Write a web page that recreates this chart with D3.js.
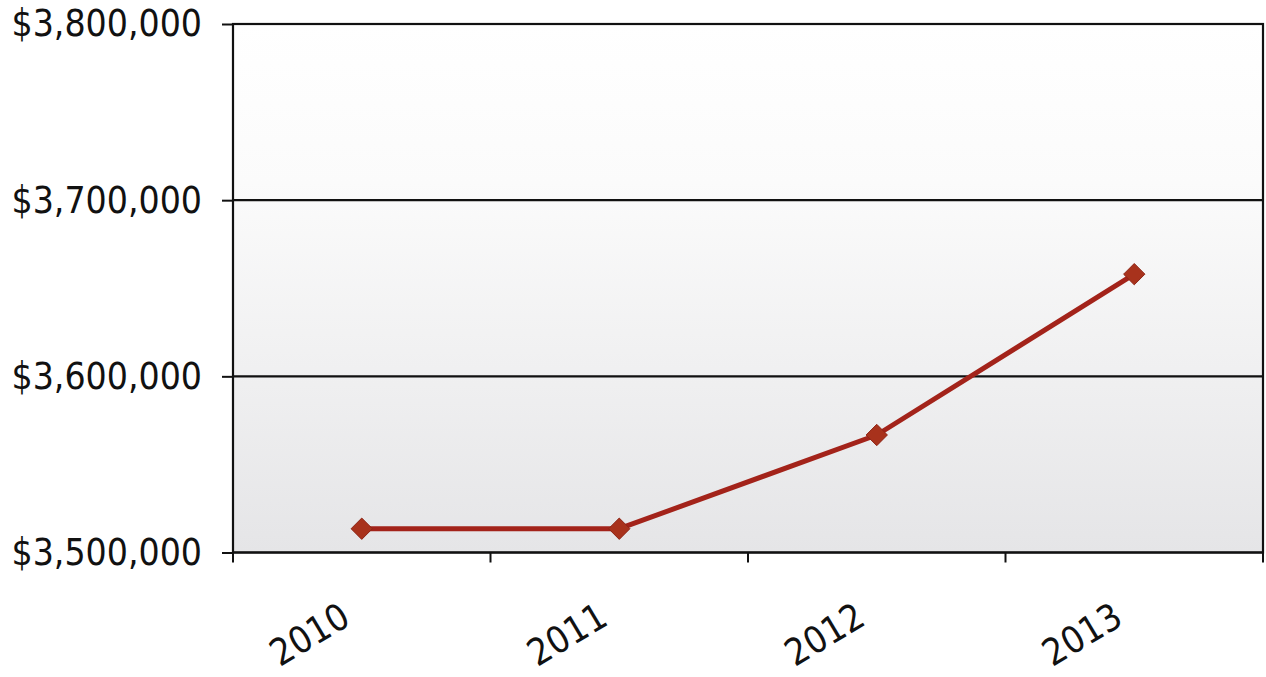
<!DOCTYPE html>
<html>
<head>
<meta charset="utf-8">
<script src="https://cdn.jsdelivr.net/npm/d3@7"></script>
<style>
  html, body { margin: 0; padding: 0; background: #ffffff; }
  svg { display: block; }
  .lbl { font-family: "DejaVu Sans Condensed", "DejaVu Sans", sans-serif; font-stretch: condensed; font-size: 37px; fill: #111; }
</style>
</head>
<body>
<svg id="chart" width="1266" height="677"></svg>
<script>
// Annual totals
const years = ["2010", "2011", "2012", "2013"];
const totals = [3513500, 3513500, 3566700, 3658000];
const yTicks = [3500000, 3600000, 3700000, 3800000];

const W = 1266, H = 677;
const margin = { left: 233, right: 3, top: 24, bottom: 124.5 };

const svg = d3.select("#chart");

const x = d3.scaleBand().domain(years).range([margin.left, W - margin.right]).padding(0);
const y = d3.scaleLinear().domain([3500000, 3800000]).range([H - margin.bottom, margin.top]);

// Plot background: soft vertical gradient
const defs = svg.append("defs");
const grad = defs.append("linearGradient").attr("id", "bg").attr("x1", 0).attr("y1", 0).attr("x2", 0).attr("y2", 1);
grad.append("stop").attr("offset", "0%").attr("stop-color", "#ffffff");
grad.append("stop").attr("offset", "30%").attr("stop-color", "#fbfbfb");
grad.append("stop").attr("offset", "100%").attr("stop-color", "#e5e5e7");

const x0 = margin.left, x1 = W - margin.right, yTop = margin.top, yBot = H - margin.bottom;

svg.append("rect")
  .attr("x", x0).attr("y", yTop)
  .attr("width", x1 - x0).attr("height", yBot - yTop)
  .attr("fill", "url(#bg)");

// Horizontal gridlines
svg.append("g").selectAll("line").data(yTicks).join("line")
  .attr("x1", x0).attr("x2", x1)
  .attr("y1", d => y(d)).attr("y2", d => y(d))
  .attr("stroke", "#111").attr("stroke-width", 2.2);

// Plot border
svg.append("rect")
  .attr("x", x0).attr("y", yTop)
  .attr("width", x1 - x0).attr("height", yBot - yTop)
  .attr("fill", "none").attr("stroke", "#111").attr("stroke-width", 2.2);

// Y axis
const yAxis = d3.axisLeft(y).tickValues(yTicks).tickSize(11).tickPadding(20)
  .tickFormat(d => "$" + d3.format(",")(d));
const gy = svg.append("g").attr("transform", `translate(${x0},0)`).call(yAxis);
gy.select(".domain").remove();
gy.selectAll(".tick line").attr("stroke", "#111").attr("stroke-width", 2);
gy.selectAll(".tick text").attr("class", "lbl").attr("fill", null);

// X axis: ticks at category boundaries
const bounds = years.map(d => x(d)).concat([x1]);
svg.append("g").selectAll("line").data(bounds).join("line")
  .attr("x1", d => d).attr("x2", d => d)
  .attr("y1", yBot).attr("y2", yBot + 10)
  .attr("stroke", "#111").attr("stroke-width", 2);

svg.append("g").selectAll("text").data(years).join("text")
  .attr("class", "lbl")
  .attr("text-anchor", "end")
  .attr("transform", d => `translate(${x(d) + x.bandwidth() / 2 - 16},${yBot + 60}) rotate(-31)`)
  .attr("dy", "0.35em")
  .text(d => d);

// Series line
const pts = years.map((d, i) => [x(d) + x.bandwidth() / 2, y(totals[i])]);
svg.append("path")
  .attr("d", d3.line()(pts))
  .attr("fill", "none")
  .attr("stroke", "#a3231a")
  .attr("stroke-width", 5)
  .attr("stroke-linejoin", "round");

// Diamond markers
svg.append("g").selectAll("path").data(pts).join("path")
  .attr("d", d3.symbol().type(d3.symbolDiamond2).size(290))
  .attr("transform", d => `translate(${d[0]},${d[1]})`)
  .attr("fill", "#a8321c")
  .attr("stroke", "#8e2516")
  .attr("stroke-width", 1);
</script>
</body>
</html>
